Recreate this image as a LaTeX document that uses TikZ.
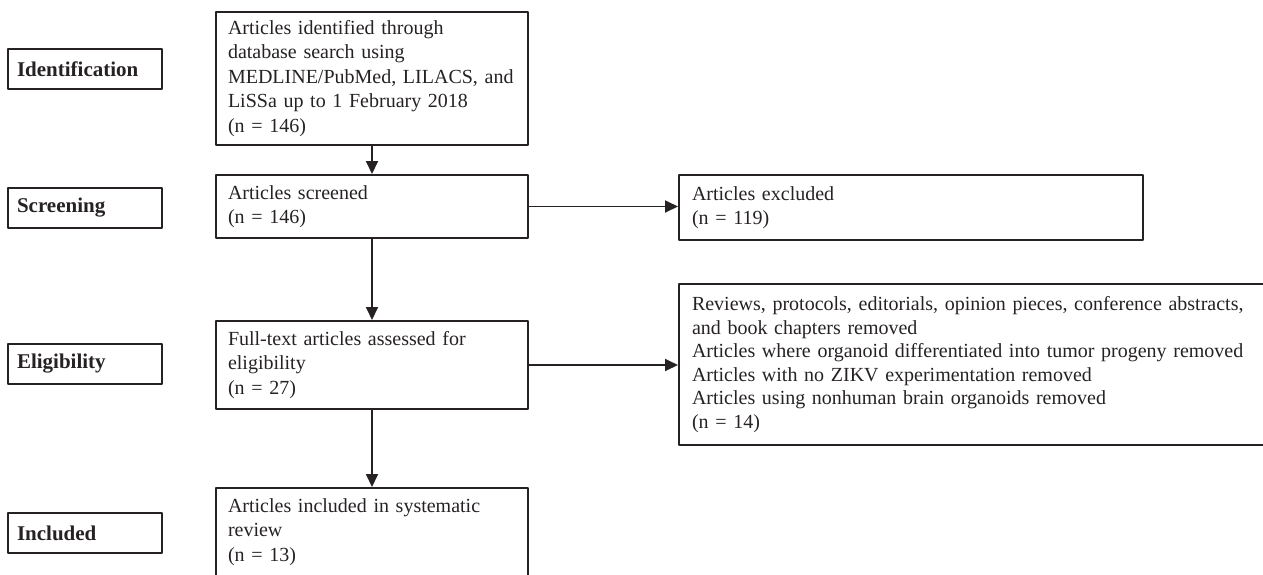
\documentclass[tikz,border=0pt]{standalone}
\usepackage{fontspec}
\setmainfont{Liberation Serif}
\usetikzlibrary{arrows.meta}
\definecolor{ink}{RGB}{38,34,35}

\tikzset{
  stagebox/.style={draw=ink, line width=2pt, text=ink, anchor=north west,
    minimum height=40pt, inner xsep=9pt, text width=136pt, align=left,
    font=\fontsize{21}{24}\selectfont\bfseries},
  mainbox/.style={draw=ink, line width=2pt, text=ink, anchor=north west,
    inner xsep=12pt, text width=288pt, align=left,
    font=\fontsize{20}{24.5}\selectfont},
  sidebox/.style={draw=ink, line width=2pt, text=ink, anchor=north west,
    inner xsep=13pt, align=left,
    font=\fontsize{20}{23.5}\selectfont},
  flow/.style={->, draw=ink, fill=ink, line width=1.8pt},
}

\begin{document}
\begin{tikzpicture}[line cap=round,line join=round,x=1pt,y=-1pt,
  >={Triangle[length=13pt,width=12pt]}]
\useasboundingbox (0,0) rectangle (1263,574);
\clip (0,0) rectangle (1263,574);
% stages
\node[stagebox] (stIdent) at (7,48) {Identification};
\node[stagebox] (stScreen) at (7,187) {Screening};
\node[stagebox] (stElig) at (7,343) {Eligibility};
\node[stagebox] (stIncl) at (7,512) {Included};
%
\node[mainbox, minimum height=133pt] (ident) at (215,11)
  {Articles identified through\\database search using\\MEDLINE/PubMed, LILACS, and\\LiSSa up to 1 February 2018\\(n = 146)};
\node[mainbox, minimum height=63pt] (screen) at (215,174)
  {Articles screened\\(n = 146)};
\node[mainbox, minimum height=88pt] (elig) at (215,320)
  {Full-text articles assessed for\\eligibility\\(n = 27)};
\node[mainbox, minimum height=88pt] (incl) at (215,487)
  {Articles included in systematic\\review\\(n = 13)};
%
\node[sidebox, text width=438pt, minimum height=65pt] (excl) at (678,174)
  {Articles excluded\\(n = 119)};
\node[sidebox, text width=614pt, minimum height=161pt] (removed) at (678,283)
  {Reviews, protocols, editorials, opinion pieces, conference abstracts,\\and book chapters removed\\Articles where organoid differentiated into tumor progeny removed\\Articles with no ZIKV experimentation removed\\Articles using nonhuman brain organoids removed\\(n = 14)};
%
\draw[flow] (ident.south) -- (screen.north);
\draw[flow] (screen.south) -- (elig.north);
\draw[flow] (elig.south) -- (incl.north);
\draw[flow] (screen.east) -- (screen.east -| excl.west);
\draw[flow] (elig.east) -- (elig.east -| removed.west);
\end{tikzpicture}
\end{document}
